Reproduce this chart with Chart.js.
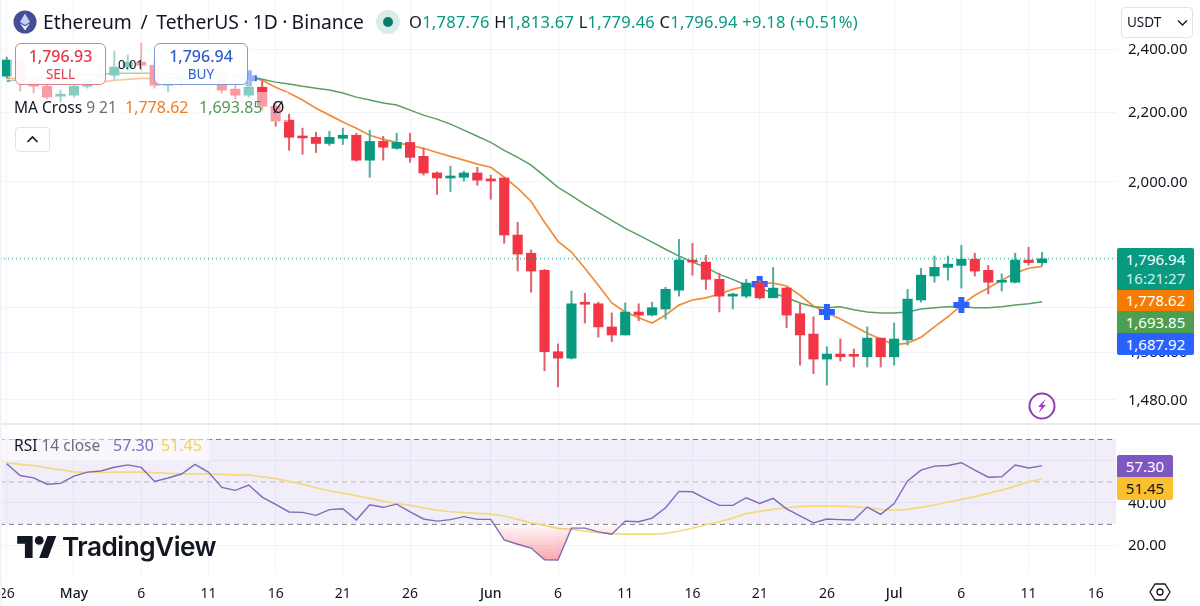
<!DOCTYPE html>
<html>
<head>
<meta charset="utf-8">
<title>ETH/USDT</title>
<script src="https://cdn.jsdelivr.net/npm/chart.js@4"></script>
<style>
  html, body { margin: 0; padding: 0; background: #fff; }
  body { width: 1200px; height: 606px; position: relative; overflow: hidden; font-family: "Noto Sans", sans-serif; color: #131722; }
  canvas { position: absolute; left: 0; }
  #priceChart { top: 0; }
  #rsiChart { top: 424px; }
  .abs { position: absolute; white-space: nowrap; }
  .veil { position: absolute; background: rgba(255,255,255,0.5); }
  .tradeBox { position: absolute; top: 43px; width: 91px; height: 42px; box-sizing: border-box; background: rgba(255,255,255,0.93); border-radius: 6px; text-align: center; font-size: 16px; font-weight: 500; line-height: 18px; padding-top: 3px; }
  .tradeBox small { display: block; font-size: 13.5px; font-weight: 400; }
  .sideTag { position: absolute; left: 1117px; width: 77px; box-sizing: border-box; color: #fff; font-size: 15px; text-align: center; }
  .rsiTag { width: 56px; }
  .gray { color: #6a6d78; }
</style>
</head>
<body>
<canvas id="priceChart" width="1200" height="424"></canvas>
<canvas id="rsiChart" width="1200" height="182"></canvas>

<!-- header -->
<svg class="abs" style="left:13px;top:10px" width="24" height="24" viewBox="0 0 24 24">
  <circle cx="12" cy="12" r="11.5" fill="#434f94"/>
  <path d="M12 3.5 L17 12 L12 15 L7 12 Z" fill="#c9d0f5"/>
  <path d="M12 16.2 L17 13.2 L12 20.5 L7 13.2 Z" fill="#e6e9fb"/>
</svg>
<div class="abs" style="left:43px;top:8px;font-size:19.3px;line-height:28px;word-spacing:-0.7px">Ethereum &nbsp;/&nbsp; TetherUS · 1D · Binance</div>
<div class="abs" style="left:376px;top:10px;width:24px;height:24px;border-radius:50%;background:#d8ece8"></div>
<div class="abs" style="left:383px;top:17px;width:10px;height:10px;border-radius:50%;background:#0b7a68"></div>
<div class="abs" style="left:409px;top:10px;font-size:16.5px;line-height:24px;letter-spacing:0.25px;color:#089981"><span style="color:#131722">O</span>1,787.76 <span style="color:#131722">H</span>1,813.67 <span style="color:#131722">L</span>1,779.46 <span style="color:#131722">C</span>1,796.94 +9.18 (+0.51%)</div>
<div class="abs" style="left:1121px;top:7px;width:72px;height:31px;box-sizing:border-box;border:1px solid #e0e3eb;border-radius:4px;font-size:13.5px;line-height:29px;padding-left:5px">USDT
  <svg style="position:absolute;left:55px;top:11px" width="11" height="8" viewBox="0 0 11 8"><path d="M1 1.5 L5.5 6 L10 1.5" fill="none" stroke="#131722" stroke-width="1.3"/></svg>
</div>

<!-- trade boxes and MA legend -->
<div class="veil" style="left:10px;top:40px;width:245px;height:52px"></div>
<div class="veil" style="left:10px;top:92px;width:278px;height:30px"></div>
<div class="tradeBox" style="left:15px;color:#e5394a;border:1px solid #d9808a">1,796.93<small>SELL</small></div>
<div class="tradeBox" style="left:154px;width:94px;color:#2f5fd0;border:1px solid #7d9bd6">1,796.94<small>BUY</small></div>
<div class="abs" style="left:118px;top:56px;font-size:13px;line-height:16px">0.01</div>
<div class="abs" style="left:14px;top:97px;font-size:15.5px;line-height:21px">MA Cross <span class="gray">9 21</span></div>
<div class="abs" style="left:125px;top:97px;font-size:16px;line-height:21px;color:#ef7d22">1,778.62</div>
<div class="abs" style="left:199px;top:97px;font-size:16px;line-height:21px;color:#4c9a55">1,693.85</div>
<div class="abs" style="left:272px;top:97px;font-size:16px;line-height:21px">Ø</div>
<div class="abs" style="left:15px;top:127px;width:35px;height:25px;box-sizing:border-box;border:1px solid #e0e3eb;border-radius:4px">
  <svg style="position:absolute;left:10px;top:7px" width="13" height="9" viewBox="0 0 13 9"><path d="M1.5 7 L6.5 2 L11.5 7" fill="none" stroke="#131722" stroke-width="1.6"/></svg>
</div>

<!-- price side tags -->
<div class="sideTag" style="top:248px;height:42px;background:#089981;line-height:19px;padding-top:2px;border-radius:2px 2px 0 0">1,796.94<br><span style="color:#d4efe9">16:21:27</span></div>
<div class="sideTag" style="top:290px;height:21px;background:#f57c00;line-height:21px">1,778.62</div>
<div class="sideTag" style="top:311px;height:22px;background:#4c9f50;line-height:22px">1,693.85</div>
<div class="sideTag" style="top:333px;height:22px;background:#2962ff;line-height:22px;border-radius:0 0 2px 2px">1,687.92</div>

<svg class="abs" style="left:1027px;top:391px" width="30" height="30" viewBox="0 0 30 30">
  <circle cx="15" cy="15" r="12.5" fill="#fff" stroke="#8e3fb0" stroke-width="2"/>
  <path d="M18.5 8 L11 16 L14.5 16 L11.5 22 L19 14 L15.5 14 Z" fill="#9c3fc0"/>
</svg>

<!-- RSI legend and tags -->
<div class="veil" style="left:0;top:433px;width:210px;height:28px"></div>
<div class="abs" style="left:14px;top:435px;font-size:15.5px;line-height:21px">RSI <span class="gray">14 close</span></div>
<div class="abs" style="left:113px;top:435px;font-size:16px;line-height:21px;color:#7e6bb8">57.30</div>
<div class="abs" style="left:161px;top:435px;font-size:16px;line-height:21px;color:#f5d350">51.45</div>
<div class="sideTag rsiTag" style="top:455px;height:22px;background:#7e57c2;line-height:22px;border-radius:2px 2px 0 0">57.30</div>
<div class="sideTag rsiTag" style="top:477px;height:23px;background:#fbc02d;color:#131722;line-height:23px;border-radius:0 0 2px 2px">51.45</div>

<!-- pane divider -->
<div class="abs" style="left:0;top:423px;width:1200px;height:2px;background:#e8eaf0"></div>
<div class="abs" style="left:0;top:0;width:2px;height:606px;background:#f3f4f7"></div>

<!-- logo -->
<svg class="abs" style="left:17px;top:536px" width="40" height="22" viewBox="0 0 36 20">
  <path d="M14 20H7V7H0V0h14v20zM28 20h-8L27.5 0h8L28 20z" fill="#131722"/>
  <circle cx="20" cy="4" r="4" fill="#131722"/>
</svg>
<div class="abs" style="left:62px;top:529px;font-family:Inter,sans-serif;font-size:26.2px;font-weight:600;line-height:36px;letter-spacing:-0.5px">TradingView</div>

<svg class="abs" style="left:1149px;top:581px" width="22" height="22" viewBox="0 0 22 22">
  <path d="M6 3 H16 L21 11 L16 19 H6 L1 11 Z" fill="none" stroke="#131722" stroke-width="1.3"/>
  <circle cx="11" cy="11" r="3" fill="none" stroke="#131722" stroke-width="1.3"/>
</svg>

<script>
// Candles, Apr 26 to Jul 12
const opens = [2312,2364,2299,2280,2249,2252,2280,2305,2315,2341,2357,2347,2283,2296,2315,2364,2325,2271,2252,2277,2218,2176,2125,2125,2107,2122,2131,2059,2113,2093,2110,2070,2023,2009,2011,2023,2003,2009,1857,1811,1769,1581,1567,1689,1689,1636,1618,1670,1663,1677,1721,1794,1789,1747,1707,1707,1738,1703,1726,1666,1620,1565,1576,1572,1570,1611,1570,1607,1698,1755,1776,1781,1796,1769,1740,1740,1794,1787.76];
const highs = [2374,2381,2312,2290,2268,2293,2312,2364,2394,2381,2420,2364,2331,2347,2381,2381,2338,2283,2299,2296,2231,2194,2152,2140,2143,2152,2137,2146,2128,2137,2137,2093,2026,2042,2028,2039,2017,2009,1890,1819,1771,1598,1719,1714,1693,1668,1691,1689,1693,1728,1846,1836,1806,1762,1714,1747,1745,1776,1728,1689,1659,1592,1609,1587,1636,1611,1645,1723,1774,1804,1804,1831,1811,1781,1760,1811,1826,1813.67];
const lows = [2306,2265,2259,2240,2231,2246,2274,2293,2302,2331,2331,2274,2262,2283,2305,2312,2259,2240,2246,2206,2158,2087,2076,2081,2101,2104,2056,2011,2059,2090,2053,2017,1964,1972,2000,1989,1951,1836,1767,1716,1540,1506,1565,1645,1613,1603,1618,1650,1661,1654,1707,1757,1723,1670,1677,1703,1700,1703,1634,1552,1534,1510,1561,1548,1548,1548,1552,1596,1693,1740,1745,1726,1755,1712,1719,1738,1782,1779.46];
const closes = [2364,2299,2280,2246,2252,2280,2305,2315,2341,2357,2347,2283,2296,2315,2364,2325,2268,2252,2277,2218,2173,2125,2123,2107,2125,2131,2059,2113,2096,2110,2067,2023,2009,2014,2023,2003,2001,1857,1809,1767,1581,1567,1689,1688,1636,1618,1670,1663,1680,1723,1794,1789,1747,1707,1709,1738,1703,1726,1663,1618,1565,1576,1570,1571,1611,1570,1609,1700,1757,1776,1784,1796,1767,1740,1743,1794,1787.76,1796.94];

// MA Cross 9 21
const ma9 = [2305,2305,2302,2299,2296,2293,2290,2293,2299,2302,2305,2305,2305,2309,2312,2312,2312,2312,2309,2299,2277,2259,2237,2212,2191,2170,2152,2131,2119,2110,2101,2093,2081,2070,2059,2048,2039,2011,1981,1945,1890,1841,1814,1774,1733,1691,1670,1657,1645,1663,1686,1698,1703,1712,1723,1731,1738,1738,1731,1709,1684,1668,1654,1638,1622,1609,1596,1600,1613,1636,1659,1686,1709,1726,1745,1762,1774,1778.62];
const ma21 = [2296,2302,2305,2309,2312,2315,2318,2318,2321,2321,2321,2321,2318,2318,2318,2318,2315,2312,2312,2302,2293,2287,2280,2274,2268,2259,2246,2237,2228,2222,2206,2191,2179,2164,2146,2128,2110,2087,2067,2045,2014,1983,1961,1937,1916,1895,1874,1857,1839,1821,1804,1789,1776,1759,1747,1733,1726,1714,1703,1691,1682,1680,1682,1675,1670,1668,1668,1670,1677,1680,1682,1682,1680,1680,1682,1686,1689,1693.85];
const crossDays = ["May 14","Jun 21","Jun 26","Jul 6"];
const crossPrices = [2305,1736,1670,1686];

// RSI 14 and its moving average
const rsi = [58.3,52.8,51.7,48.7,49.1,52.5,54.4,54.9,56.7,57.8,56.6,50,51.6,53.5,58,54.4,47.2,45.8,48.3,42.6,39.2,35.6,35.4,34,36.7,37.1,31.8,39,37.8,39.3,35.7,32.3,31.3,32,33.4,32.1,32.1,22.4,20.4,18.6,13.1,13,28,28,26.2,25.1,31.3,31,32.7,37.6,45.3,45.1,41.8,38.7,38.7,42.3,39.6,42,37.1,33.8,30.5,32.3,32,31.8,37.9,34.5,39.6,50.2,55.3,57.2,57.5,58.8,55.3,52,52.2,57.7,56.3,57.3];
const rsiMa = [58.8,58,57.4,56.4,55.5,54.5,54.2,54.2,54.4,54.4,54.4,54.1,53.8,53.6,53.6,53.5,53.3,53.1,53,52.2,51.3,50,48.6,47,45.5,44.5,43.3,42,40.7,39.6,38.7,37.6,36.5,35.7,35.3,34.9,34.6,33.7,32.1,30.5,29.3,27.9,27.4,26.6,25.8,25.4,25.2,25.2,25.2,25.5,26.5,28,29.6,31,32.7,34.8,35.9,36.8,37.6,38.2,38.4,38.4,38.4,38.1,37.6,36.8,36.5,36.8,37.8,38.9,40.3,41.5,42.8,44.4,45.9,47.8,49.7,51.4];

// Axis ticks
const tickDays = ["Apr 26","May 1","May 6","May 11","May 16","May 21","May 26","Jun 1","Jun 6","Jun 11","Jun 16","Jun 21","Jun 26","Jul 1","Jul 6","Jul 11","Jul 16"];
const tickTexts = ["26","May","6","11","16","21","26","Jun","6","11","16","21","26","Jul","6","11","16"];
const priceTicks = [2400,2200,2000,1800,1680,1580,1480];
const rsiTicks = [60,40,20];
const rsiLevels = [70,50,30];
const lastPrice = 1796.94;

const UP = "#089981", DOWN = "#f23645";
const GRID = "#f0f3fa";

// category labels, one per day including the empty days on the right
const days = [];
[["Apr",26,30],["May",1,31],["Jun",1,30],["Jul",1,17]].forEach(([m, a, b]) => {
  for (let d = a; d <= b; d++) days.push(m + " " + d);
});

const keepTicks = scale => {
  scale.ticks = scale.ticks.filter(t => tickDays.includes(days[t.value]));
};
// the panes must fill the canvas, so drop the room the scales ask for around their labels
const fitY = scale => { scale.width = 84; scale.paddingTop = 0; scale.paddingBottom = 0; };
const fitX = scale => { scale.paddingLeft = 0; scale.paddingRight = 0; };

const candleColor = closes.map((c, i) => c >= opens[i] ? UP : DOWN);
const wickColor = closes.map((c, i) => c >= opens[i] ? "#4fb09f" : "#e2626f");

// dotted last price line
const lastLine = {
  id: "lastLine",
  afterDatasetsDraw(chart) {
    const { ctx, chartArea, scales } = chart;
    const y = scales.y.getPixelForValue(lastPrice);
    ctx.save();
    ctx.strokeStyle = UP;
    ctx.lineWidth = 1;
    ctx.setLineDash([1, 3]);
    ctx.beginPath();
    ctx.moveTo(chartArea.left, y);
    ctx.lineTo(chartArea.right, y);
    ctx.stroke();
    ctx.restore();
  }
};

new Chart(document.getElementById("priceChart"), {
  data: {
    labels: days,
    datasets: [
      { type: "line", data: ma9, borderColor: "#f28c38", borderWidth: 1.7, pointRadius: 0, tension: 0, order: 6 },
      { type: "line", data: ma21, borderColor: "#5b9e63", borderWidth: 1.5, pointRadius: 0, tension: 0, order: 5 },
      { type: "bar", grouped: false, data: closes.map((c, i) => [Math.min(opens[i], c), Math.max(opens[i], c)]), backgroundColor: candleColor, barThickness: 9.5, minBarLength: 2, order: 1 },
      { type: "bar", grouped: false, data: highs.map((h, i) => [lows[i], h]), backgroundColor: wickColor, barThickness: 1.4, order: 2 },
      {
        type: "line", showLine: false, order: 3,
        data: days.map(d => crossDays.includes(d) ? crossPrices[crossDays.indexOf(d)] : null),
        pointStyle: "cross", pointRadius: 8, pointBorderWidth: 6, pointBorderColor: "#2962ff"
      }
    ]
  },
  options: {
    responsive: false,
    animation: false,
    events: [],
    layout: { autoPadding: false, padding: 0 },
    plugins: { legend: { display: false }, tooltip: { enabled: false } },
    scales: {
      x: {
        type: "category", offset: true,
        afterBuildTicks: keepTicks,
        afterFit: fitX,
        grid: { color: GRID, offset: false, drawTicks: false },
        border: { display: false },
        ticks: { display: false, autoSkip: false }
      },
      y: {
        type: "logarithmic", position: "right", min: 1431, max: 2568,
        afterBuildTicks: scale => { scale.ticks = priceTicks.map(v => ({ value: v })); },
        afterFit: fitY,
        grid: { color: GRID, drawTicks: false },
        border: { display: false },
        ticks: {
          autoSkip: false, padding: 12, labelOffset: 1, color: "#131722", font: { family: "Noto Sans", size: 15 },
          callback: v => v.toLocaleString("en-US", { minimumFractionDigits: 2 })
        }
      }
    }
  },
  plugins: [lastLine]
});

// RSI pane
const rsiCanvas = document.getElementById("rsiChart");
const oversold = rsiCanvas.getContext("2d").createLinearGradient(0, 100, 0, 141);
oversold.addColorStop(0, "rgba(242,54,69,0.02)");
oversold.addColorStop(1, "rgba(242,54,69,0.5)");

const rsiBand = {
  id: "rsiBand",
  beforeDatasetsDraw(chart) {
    const { ctx, chartArea, scales } = chart;
    const top = scales.y.getPixelForValue(rsiLevels[0]);
    const bottom = scales.y.getPixelForValue(rsiLevels[2]);
    ctx.save();
    ctx.fillStyle = "rgba(126,87,194,0.1)";
    ctx.fillRect(chartArea.left, top, chartArea.right - chartArea.left, bottom - top);
    ctx.setLineDash([5, 4]);
    rsiLevels.forEach(level => {
      const y = scales.y.getPixelForValue(level);
      ctx.strokeStyle = level === 50 ? "#b9bbc4" : "#787b86";
      ctx.beginPath();
      ctx.moveTo(chartArea.left, y + 0.5);
      ctx.lineTo(chartArea.right, y + 0.5);
      ctx.stroke();
    });
    ctx.restore();
  }
};

new Chart(rsiCanvas, {
  type: "line",
  data: {
    labels: days,
    datasets: [
      { data: rsiMa, borderColor: "#f5d97c", borderWidth: 1.7, pointRadius: 0, tension: 0, order: 2 },
      {
        data: rsi, borderColor: "#7e6bb8", borderWidth: 1.4, pointRadius: 0, tension: 0, order: 1,
        fill: { target: { value: 30 }, above: "rgba(0,0,0,0)", below: oversold }
      }
    ]
  },
  options: {
    responsive: false,
    animation: false,
    events: [],
    layout: { autoPadding: false, padding: 0 },
    plugins: { legend: { display: false }, tooltip: { enabled: false } },
    scales: {
      x: {
        type: "category", offset: true,
        afterBuildTicks: keepTicks,
        afterFit: scale => { scale.height = 31; fitX(scale); },
        grid: { color: GRID, offset: false, drawTicks: false },
        border: { display: false },
        ticks: {
          autoSkip: false, maxRotation: 0, padding: 11, color: "#131722",
          font: ctx => ({ family: "Noto Sans", size: 14, weight: /[A-Za-z]/.test(tickTexts[ctx.index] || "") ? "500" : "400" }),
          callback: function (v) { return tickTexts[tickDays.indexOf(days[v])]; }
        }
      },
      y: {
        position: "right", min: 5.9, max: 77.06,
        afterBuildTicks: scale => { scale.ticks = rsiTicks.map(v => ({ value: v })); },
        afterFit: fitY,
        grid: { color: GRID, drawTicks: false },
        border: { display: false },
        ticks: {
          autoSkip: false, padding: 12, labelOffset: 1, color: "#131722", font: { family: "Noto Sans", size: 15 },
          // the 60 label sits behind the value tags in the reference
          callback: v => v === 60 ? "" : v.toFixed(2)
        }
      }
    }
  },
  plugins: [rsiBand]
});
</script>
</body>
</html>
